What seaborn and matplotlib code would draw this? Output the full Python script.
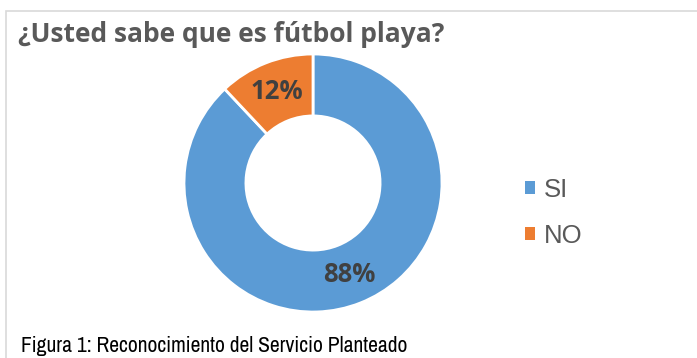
import matplotlib
matplotlib.use("Agg")
import matplotlib.pyplot as plt
from matplotlib.patches import Rectangle
import seaborn as sns

# Survey answers
categories = ["SI", "NO"]
shares = [88, 12]
title_text = "¿Usted sabe que es fútbol playa?"
caption_text = "Figura 1: Reconocimiento del Servicio Planteado"

sns.set_theme(style="white")
plt.rcParams["font.family"] = ["Liberation Sans", "DejaVu Sans"]

colors = ["#5B9BD5", "#ED7D31"]

W, H = 697, 358
fig = plt.figure(figsize=(W / 100, H / 100), dpi=100)
fig.patch.set_facecolor("white")


def fx(px):
    return px / W


def fy(py):
    return 1 - py / H


# chart frame (open on the right and bottom edges of the canvas)
fig.patches.append(Rectangle((fx(6), fy(420)), fx(760) - fx(6), fy(11) - fy(420),
                             transform=fig.transFigure, fill=False,
                             edgecolor="#D9D9D9", linewidth=1.2, clip_on=False))

# donut axes: centre (313, 183) px, outer radius 129 px
cx, cy, R = 313, 183, 129
ax = fig.add_axes([fx(cx - R), fy(cy + R), 2 * R / W, 2 * R / H])
inner = 0.52
wedges, _, autotexts = ax.pie(
    shares, colors=colors, startangle=90, counterclock=False,
    autopct=lambda p: f"{p:.0f}%", pctdistance=(1 + inner) / 2,
    wedgeprops=dict(width=1 - inner, edgecolor="white", linewidth=2),
)
for t in autotexts:
    t.set_fontfamily(["Open Sans", "DejaVu Sans"])
    t.set_fontweight("bold")
    t.set_fontsize(18.5)
    t.set_color("#404040")
ax.set_xlim(-1, 1)
ax.set_ylim(-1, 1)
ax.set_aspect("equal")
ax.axis("off")

fig.text(fx(18), fy(42.3), title_text, fontsize=19, fontweight="bold",
         color="#595959", family=["Open Sans", "DejaVu Sans"], va="baseline", ha="left")

fig.text(fx(21), fy(352.5), caption_text, fontsize=15.5, color="black",
         family=["Archivo Narrow", "Liberation Sans", "DejaVu Sans"],
         va="baseline", ha="left")

leg = fig.legend(wedges, categories, loc="center left",
                 bbox_to_anchor=(fx(525), fy(213)), frameon=False,
                 fontsize=18.5, labelcolor="#595959",
                 handlelength=0.4, handleheight=0.4, handletextpad=0.35,
                 labelspacing=0.85, borderaxespad=0, borderpad=0)
for h in leg.legend_handles:
    h.set_edgecolor("none")

fig.savefig("out.png", dpi=100, facecolor="white")
